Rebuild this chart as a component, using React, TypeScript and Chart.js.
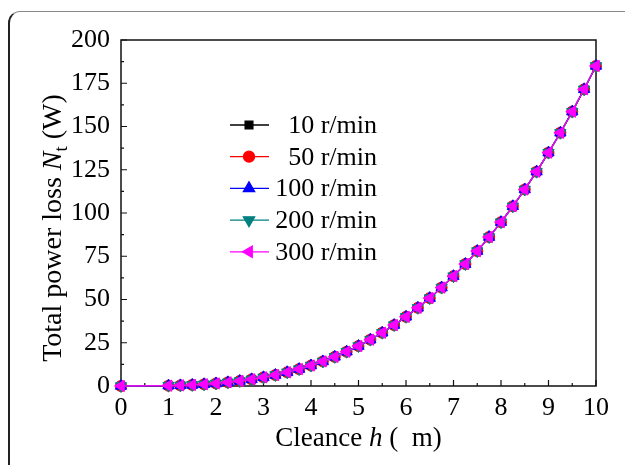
import React, { useEffect, useRef } from "react";
import { Chart, registerables } from "chart.js";
import { drawPoint } from "chart.js/helpers";

Chart.register(...registerables);

// ---- data ----
const clearanceH = [0, 1, 1.25, 1.5, 1.75, 2, 2.25, 2.5, 2.75, 3, 3.25, 3.5, 3.75, 4, 4.25, 4.5, 4.75, 5, 5.25, 5.5, 5.75, 6, 6.25, 6.5, 6.75, 7, 7.25, 7.5, 7.75, 8, 8.25, 8.5, 8.75, 9, 9.25, 9.5, 9.75, 10];
const loss10 = [0, 0.19, 0.36, 0.62, 0.99, 1.48, 2.11, 2.89, 3.85, 5.0, 6.35, 7.93, 9.76, 11.84, 14.2, 16.86, 19.83, 23.1, 26.8, 30.8, 35.2, 40.0, 45.2, 50.8, 56.9, 63.5, 70.5, 78.0, 86.1, 94.7, 103.9, 113.6, 123.9, 134.9, 146.4, 158.6, 171.5, 185];
const loss50 = [0, 0.19, 0.36, 0.62, 0.99, 1.48, 2.11, 2.89, 3.85, 5.0, 6.35, 7.93, 9.76, 11.84, 14.2, 16.86, 19.83, 23.1, 26.8, 30.8, 35.2, 40.0, 45.2, 50.8, 56.9, 63.5, 70.5, 78.0, 86.1, 94.7, 103.9, 113.6, 123.9, 134.9, 146.4, 158.6, 171.5, 185];
const loss100 = [0, 0.19, 0.36, 0.62, 0.99, 1.48, 2.11, 2.89, 3.85, 5.0, 6.35, 7.93, 9.76, 11.84, 14.2, 16.86, 19.83, 23.1, 26.8, 30.8, 35.2, 40.0, 45.2, 50.8, 56.9, 63.5, 70.5, 78.0, 86.1, 94.7, 103.9, 113.6, 123.9, 134.9, 146.4, 158.6, 171.5, 185];
const loss200 = [0, 0.19, 0.36, 0.62, 0.99, 1.48, 2.11, 2.89, 3.85, 5.0, 6.35, 7.93, 9.76, 11.84, 14.2, 16.86, 19.83, 23.1, 26.8, 30.8, 35.2, 40.0, 45.2, 50.8, 56.9, 63.5, 70.5, 78.0, 86.1, 94.7, 103.9, 113.6, 123.9, 134.9, 146.4, 158.6, 171.5, 185];
const loss300 = [0, 0.19, 0.36, 0.62, 0.99, 1.48, 2.11, 2.89, 3.85, 5.0, 6.35, 7.93, 9.76, 11.84, 14.2, 16.86, 19.83, 23.1, 26.8, 30.8, 35.2, 40.0, 45.2, 50.8, 56.9, 63.5, 70.5, 78.0, 86.1, 94.7, 103.9, 113.6, 123.9, 134.9, 146.4, 158.6, 171.5, 185];

const seriesLabels = ["10 r/min", "50 r/min", "100 r/min", "200 r/min", "300 r/min"];
const seriesValues = [loss10, loss50, loss100, loss200, loss300];
const seriesColors = ["#000000", "#ff0000", "#0000ff", "#008080", "#ff00ff"];
const seriesShapes = ["rect", "circle", "triangle", "triangle", "triangle"];
const seriesRotation = [0, 0, 0, 180, -90];

const xMin = 0, xMax = 10, xStep = 1, xMinorStep = 0.5;
const yMin = 0, yMax = 200, yStep = 25, yMinorStep = 12.5;

const xTitleRuns = [
  { text: "Cleance ", italic: false },
  { text: "h", italic: true },
  { text: " (  m)", italic: false },
];
const yTitleRuns = [
  { text: "Total power loss ", italic: false },
  { text: "N", italic: true },
  { text: "t", italic: false, sub: true },
  { text: " (W)", italic: false },
];

const SERIF = '"Liberation Serif", "Times New Roman", serif';

function drawRuns(ctx: CanvasRenderingContext2D, runs: any[], cx: number, baseline: number, size: number) {
  const fontOf = (r: any) => `${r.italic ? "italic " : ""}${r.sub ? size * 0.68 : size}px ${SERIF}`;
  let total = 0;
  for (const r of runs) { ctx.font = fontOf(r); total += ctx.measureText(r.text).width; }
  let x = cx - total / 2;
  ctx.textAlign = "left";
  ctx.textBaseline = "alphabetic";
  for (const r of runs) {
    ctx.font = fontOf(r);
    ctx.fillText(r.text, x, baseline + (r.sub ? size * 0.22 : 0));
    x += ctx.measureText(r.text).width;
  }
}

const decorPlugin = {
  id: "decor",
  beforeDatasetsDraw(chart: any) {
    const { ctx, chartArea: a, scales } = chart;
    const xs = scales.x, ys = scales.y;
    ctx.save();
    ctx.strokeStyle = "#111";
    ctx.lineWidth = 1.5;
    ctx.beginPath();
    ctx.rect(a.left, a.top, a.right - a.left, a.bottom - a.top);
    ctx.stroke();
    ctx.lineWidth = 1.2;
    ctx.beginPath();
    for (let v = xMin; v <= xMax + 1e-9; v += xMinorStep) {
      const px = xs.getPixelForValue(v);
      const major = Math.abs(v / xStep - Math.round(v / xStep)) < 1e-6;
      ctx.moveTo(px, a.bottom);
      ctx.lineTo(px, a.bottom - (major ? 6 : 3));
    }
    for (let v = yMin; v <= yMax + 1e-9; v += yMinorStep) {
      const py = ys.getPixelForValue(v);
      const major = Math.abs(v / yStep - Math.round(v / yStep)) < 1e-6;
      ctx.moveTo(a.left, py);
      ctx.lineTo(a.left + (major ? 6 : 3), py);
    }
    ctx.stroke();
    ctx.restore();
  },
  afterDraw(chart: any) {
    const { ctx, chartArea: a } = chart;
    ctx.save();
    ctx.fillStyle = "#000";
    // x title
    drawRuns(ctx, xTitleRuns, (a.left + a.right) / 2, 446, 27);
    // y title
    ctx.save();
    ctx.translate(61, 228);
    ctx.rotate(-Math.PI / 2);
    drawRuns(ctx, yTitleRuns, 0, 0, 28);
    ctx.restore();
    // legend
    chart.data.datasets.forEach((ds: any, i: number) => {
      const yy = 125 + i * 31.7;
      ctx.strokeStyle = ds.borderColor;
      ctx.lineWidth = 1.3;
      ctx.beginPath();
      ctx.moveTo(230, yy);
      ctx.lineTo(269, yy);
      ctx.stroke();
      ctx.fillStyle = ds.pointBackgroundColor;
      ctx.strokeStyle = ds.pointBorderColor;
      drawPoint(ctx, { pointStyle: ds.pointStyle, rotation: ds.pointRotation, radius: ds.pointRadius, borderWidth: 1 }, 249, yy);
      ctx.fillStyle = "#000";
      ctx.font = `26px ${SERIF}`;
      ctx.textAlign = "right";
      ctx.textBaseline = "middle";
      ctx.fillText(ds.label, 377, yy + 1);
    });
    ctx.restore();
  },
};

export default function App() {
  const ref = useRef<HTMLCanvasElement | null>(null);
  useEffect(() => {
    if (!ref.current) return;
    const datasets = seriesLabels.map((label, i) => ({
      label,
      data: clearanceH.map((h, k) => ({ x: h, y: seriesValues[i][k] })),
      borderColor: seriesColors[i],
      backgroundColor: seriesColors[i],
      pointBackgroundColor: seriesColors[i],
      pointBorderColor: seriesColors[i],
      pointStyle: seriesShapes[i],
      pointRotation: seriesRotation[i],
      pointRadius: seriesShapes[i] === "triangle" ? 6.5 : 5.5,
      pointBorderWidth: 1,
      borderWidth: 1.3,
      tension: 0,
      clip: false,
      order: seriesLabels.length - i,
    }));
    const chart = new Chart(ref.current, {
      type: "line",
      data: { datasets },
      plugins: [decorPlugin],
      options: {
        animation: false,
        responsive: false,
        devicePixelRatio: 1,
        layout: { padding: { left: 0, right: 29, top: 40, bottom: 0 } },
        plugins: { legend: { display: false }, tooltip: { enabled: false } },
        scales: {
          x: {
            type: "linear",
            min: xMin,
            max: xMax,
            grid: { display: false, drawTicks: false },
            border: { display: false },
            ticks: { stepSize: xStep, padding: 7, color: "#000", font: { family: SERIF, size: 26 } },
            afterFit: (s: any) => { s.height = 79; },
          },
          y: {
            type: "linear",
            min: yMin,
            max: yMax,
            grid: { display: false, drawTicks: false },
            border: { display: false },
            ticks: { stepSize: yStep, padding: 11, color: "#000", font: { family: SERIF, size: 26 } },
            afterFit: (s: any) => { s.width = 121; },
          },
        },
      },
    } as any);
    return () => chart.destroy();
  }, []);
  return (
    <div style={{ position: "fixed", left: 0, top: 0, width: 625, height: 465, background: "#fff", overflow: "hidden" }}>
      <div style={{ position: "absolute", left: 8, top: 11, width: 700, height: 600, borderTop: "1.5px solid #888", borderLeft: "2px solid #222", borderTopLeftRadius: 12, boxSizing: "border-box" }} />
      <canvas ref={ref} width={625} height={465} style={{ position: "absolute", left: 0, top: 0, width: 625, height: 465 }} />
    </div>
  );
}
